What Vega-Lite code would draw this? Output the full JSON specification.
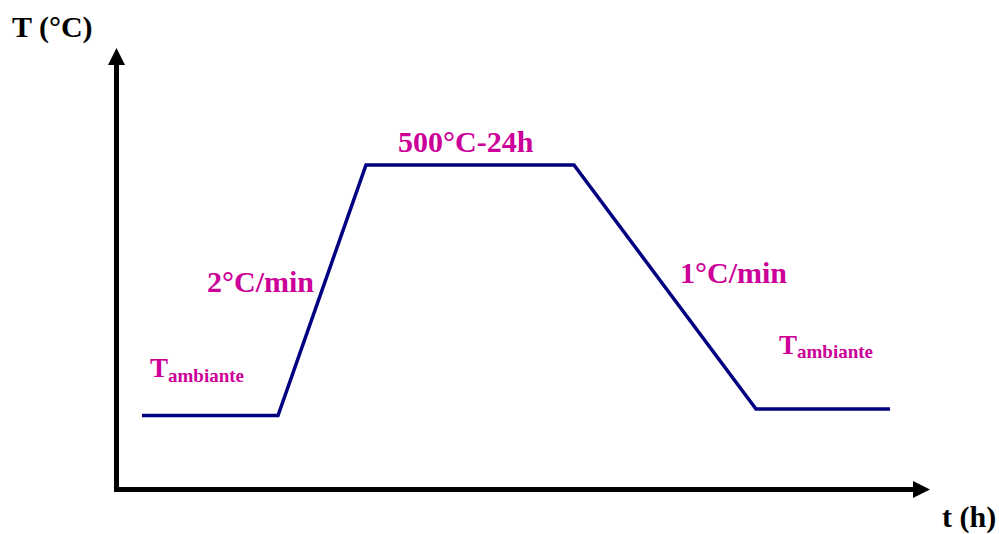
{
  "$schema": "https://vega.github.io/schema/vega-lite/v6.json",
  "width": 999,
  "height": 534,
  "autosize": {"type": "fit", "contains": "padding"},
  "padding": 0,
  "background": "white",
  "view": {"stroke": null},
  "datasets": {
    "axes": [
      {"x": 116.5, "y": 42, "x2": 116.5, "y2": 472},
      {"x": 114, "y": 44.5, "x2": 916, "y2": 44.5}
    ],
    "profile": [
      {"t": 142, "T": 118.5},
      {"t": 278, "T": 118.5},
      {"t": 366, "T": 369},
      {"t": 574, "T": 369},
      {"t": 756, "T": 125},
      {"t": 890, "T": 125}
    ],
    "arrowUp": [{"x": 116.5, "y": 486}],
    "arrowRight": [{"x": 930, "y": 44.5}],
    "axisTitles": [
      {"label": "T (°C)", "x": 12, "y": 497},
      {"label": "t (h)", "x": 942, "y": 7.5}
    ],
    "labels": [
      {"label": "500°C-24h", "x": 398, "y": 382},
      {"label": "2°C/min", "x": 207, "y": 242},
      {"label": "1°C/min", "x": 680, "y": 251}
    ],
    "bigT": [
      {"label": "T", "x": 150, "y": 157},
      {"label": "T", "x": 779, "y": 180}
    ],
    "sub": [
      {"label": "ambiante", "x": 168, "y": 152},
      {"label": "ambiante", "x": 797, "y": 176}
    ]
  },
  "layer": [
    {
      "data": {"name": "axes"},
      "mark": {"type": "rule", "color": "black", "strokeWidth": 5},
      "encoding": {
        "x": {"field": "x", "type": "quantitative", "scale": {"domain": [0, 999], "nice": false, "zero": false}, "axis": null},
        "y": {"field": "y", "type": "quantitative", "scale": {"domain": [0, 534], "nice": false, "zero": false}, "axis": null},
        "x2": {"field": "x2"},
        "y2": {"field": "y2"}
      }
    },
    {
      "data": {"name": "profile"},
      "mark": {"type": "line", "color": "#000080", "strokeWidth": 3.5, "strokeJoin": "miter"},
      "encoding": {
        "x": {"field": "t", "type": "quantitative", "scale": {"domain": [0, 999], "nice": false, "zero": false}, "axis": null},
        "y": {"field": "T", "type": "quantitative", "scale": {"domain": [0, 534], "nice": false, "zero": false}, "axis": null}
      }
    },
    {
      "data": {"name": "arrowUp"},
      "mark": {"type": "point", "shape": "M0,0L0.85,1.7L-0.85,1.7Z", "size": 400, "filled": true, "color": "black", "opacity": 1, "strokeWidth": 0},
      "encoding": {
        "x": {"field": "x", "type": "quantitative", "scale": {"domain": [0, 999], "nice": false, "zero": false}, "axis": null},
        "y": {"field": "y", "type": "quantitative", "scale": {"domain": [0, 534], "nice": false, "zero": false}, "axis": null}
      }
    },
    {
      "data": {"name": "arrowRight"},
      "mark": {"type": "point", "shape": "M0,0L-1.7,-0.85L-1.7,0.85Z", "size": 400, "filled": true, "color": "black", "opacity": 1, "strokeWidth": 0},
      "encoding": {
        "x": {"field": "x", "type": "quantitative", "scale": {"domain": [0, 999], "nice": false, "zero": false}, "axis": null},
        "y": {"field": "y", "type": "quantitative", "scale": {"domain": [0, 534], "nice": false, "zero": false}, "axis": null}
      }
    },
    {
      "data": {"name": "axisTitles"},
      "mark": {"type": "text", "font": "Liberation Serif", "fontWeight": "bold", "fontSize": 30, "color": "black", "align": "left", "baseline": "alphabetic"},
      "encoding": {
        "x": {"field": "x", "type": "quantitative", "scale": {"domain": [0, 999], "nice": false, "zero": false}, "axis": null},
        "y": {"field": "y", "type": "quantitative", "scale": {"domain": [0, 534], "nice": false, "zero": false}, "axis": null},
        "text": {"field": "label"}
      }
    },
    {
      "data": {"name": "labels"},
      "mark": {"type": "text", "font": "Liberation Serif", "fontWeight": "bold", "fontSize": 30, "color": "#CC0099", "align": "left", "baseline": "alphabetic"},
      "encoding": {
        "x": {"field": "x", "type": "quantitative", "scale": {"domain": [0, 999], "nice": false, "zero": false}, "axis": null},
        "y": {"field": "y", "type": "quantitative", "scale": {"domain": [0, 534], "nice": false, "zero": false}, "axis": null},
        "text": {"field": "label"}
      }
    },
    {
      "data": {"name": "bigT"},
      "mark": {"type": "text", "font": "Liberation Serif", "fontWeight": "bold", "fontSize": 27, "color": "#CC0099", "align": "left", "baseline": "alphabetic"},
      "encoding": {
        "x": {"field": "x", "type": "quantitative", "scale": {"domain": [0, 999], "nice": false, "zero": false}, "axis": null},
        "y": {"field": "y", "type": "quantitative", "scale": {"domain": [0, 534], "nice": false, "zero": false}, "axis": null},
        "text": {"field": "label"}
      }
    },
    {
      "data": {"name": "sub"},
      "mark": {"type": "text", "font": "Liberation Serif", "fontWeight": "bold", "fontSize": 19, "color": "#CC0099", "align": "left", "baseline": "alphabetic"},
      "encoding": {
        "x": {"field": "x", "type": "quantitative", "scale": {"domain": [0, 999], "nice": false, "zero": false}, "axis": null},
        "y": {"field": "y", "type": "quantitative", "scale": {"domain": [0, 534], "nice": false, "zero": false}, "axis": null},
        "text": {"field": "label"}
      }
    }
  ]
}
